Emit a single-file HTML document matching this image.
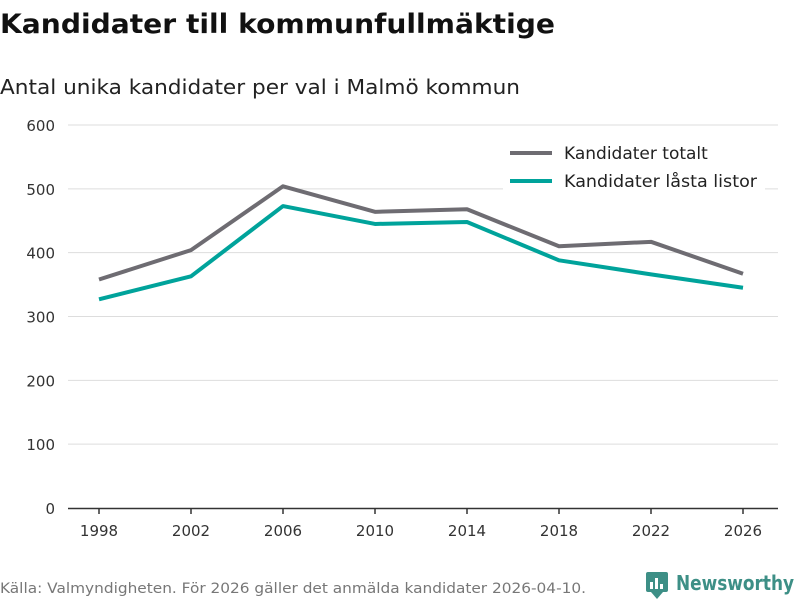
<!DOCTYPE html>
<html><head><meta charset="utf-8"><style>
body{margin:0;background:#fff;width:800px;height:600px;overflow:hidden;font-family:"DejaVu Sans","Liberation Sans",sans-serif}
</style></head><body>
<svg width="800" height="600" id="chart" xmlns="http://www.w3.org/2000/svg">
<text x="0" y="33" font-size="27" font-weight="bold" fill="#111" textLength="555" lengthAdjust="spacingAndGlyphs">Kandidater till kommunfullmäktige</text>
<text x="0" y="94" font-size="20.5" fill="#222" textLength="520" lengthAdjust="spacingAndGlyphs">Antal unika kandidater per val i Malmö kommun</text>
<g id="grid"></g><g id="series"></g>
<g>
<rect x="503" y="140" width="262" height="60" fill="#fff"/>
<line x1="510" y1="153" x2="552" y2="153" stroke="#6e6c72" stroke-width="4"/>
<text x="564" y="159" font-size="17" fill="#222">Kandidater totalt</text>
<line x1="510" y1="181" x2="552" y2="181" stroke="#00a39b" stroke-width="4"/>
<text x="564" y="187" font-size="17" fill="#222" textLength="193" lengthAdjust="spacingAndGlyphs">Kandidater låsta listor</text>
</g>
<text x="0" y="593" font-size="14.5" fill="#777" textLength="586" lengthAdjust="spacingAndGlyphs">Källa: Valmyndigheten. För 2026 gäller det anmälda kandidater 2026-04-10.</text>
<g>
<rect x="646" y="572" width="22" height="20" rx="2" fill="#3d8f86"/>
<path d="M651 592 L657 599 L663 592Z" fill="#3d8f86"/>
<rect x="650" y="582" width="3" height="7" fill="#fff"/><rect x="655" y="578" width="3" height="11" fill="#fff"/><rect x="660" y="584" width="3" height="5" fill="#fff"/>
<text x="676" y="590" font-size="20" font-weight="bold" fill="#3d8f86" textLength="118" lengthAdjust="spacingAndGlyphs">Newsworthy</text>
</g>
</svg>
<script>
const years=[1998,2002,2006,2010,2014,2018,2022,2026];
const total=[358,404,504,464,468,410,417,367];
const locked=[327,363,473,445,448,388,366,345];
const yTicks=[0,100,200,300,400,500,600];
const NS="http://www.w3.org/2000/svg";
const x=v=>99+(v-1998)*(644/28);
const y=v=>508-v*(383/600);
const grid=document.getElementById('grid'),ser=document.getElementById('series');
function mk(t,a,p){const e=document.createElementNS(NS,t);for(const k in a)e.setAttribute(k,a[k]);p.appendChild(e);return e;}
yTicks.forEach(t=>{
 if(t>0){const l=mk('line',{x1:68,x2:778,y1:y(t),y2:y(t),stroke:'#ddd','stroke-width':1},grid);
 
 }
 const tx=mk('text',{x:55,y:y(t)+6,'font-size':15,fill:'#333','text-anchor':'end'},grid);tx.textContent=t;
 
 
});
const ax=mk('line',{x1:68,x2:778,y1:508.5,y2:508.5,stroke:'#333','stroke-width':1.5},grid);


years.forEach(yr=>{
 mk('line',{x1:x(yr),x2:x(yr),y1:508,y2:514,stroke:'#333','stroke-width':1.5},grid);
 const tx=mk('text',{x:x(yr),y:536,'font-size':15,fill:'#333','text-anchor':'middle'},grid);tx.textContent=yr;
 
 
});
function line(vals,col,name){
 const p=mk('polyline',{points:vals.map((v,i)=>x(years[i])+','+y(v)).join(' '),fill:'none',stroke:col,'stroke-width':4,'stroke-linejoin':'round'},ser);
 
 
}
line(total,'#6e6c72','line-total');
line(locked,'#00a39b','line-locked-lists');
</script>
</body></html>
